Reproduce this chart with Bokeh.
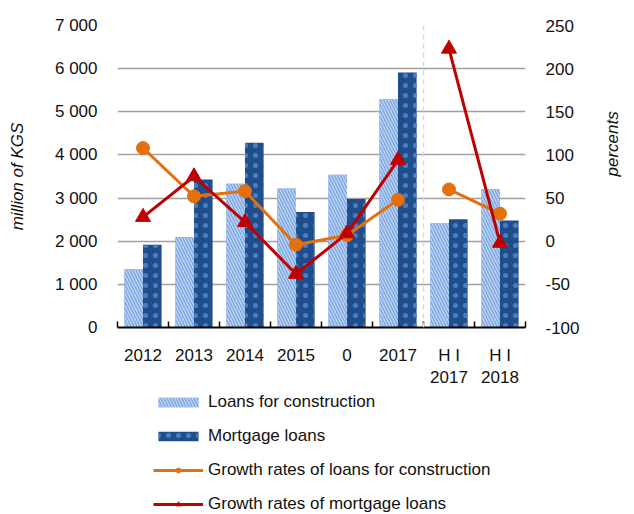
import math
from bokeh.plotting import figure
from bokeh.layouts import column
from bokeh.models import (Range1d, LinearAxis, FixedTicker,
                          ColumnDataSource, Legend, LegendItem, Span)
from bokeh.transform import dodge
from bokeh.embed import file_html
from bokeh.resources import INLINE

categories = ["2012", "2013", "2014", "2015", "0", "2017", "H I\n2017", "H I\n2018"]
loans_construction = [1350, 2100, 3330, 3220, 3540, 5290, 2420, 3210]
mortgage_loans = [1920, 3430, 4280, 2680, 2980, 5910, 2510, 2480]
growth_construction = [108, 52, 58, -4, 7, 48, 60, 32]
growth_mortgage = [28, 75, 22, -38, 9, 94, 223, -2]
series_names = ["Loans for construction", "Mortgage loans",
                "Growth rates of loans for construction", "Growth rates of mortgage loans"]

left_ticks = [0, 1000, 2000, 3000, 4000, 5000, 6000, 7000]
left_tick_labels = ["0", "1 000", "2 000", "3 000", "4 000", "5 000", "6 000", "7 000"]
right_ticks = [-100, -50, 0, 50, 100, 150, 200, 250]
right_tick_labels = ["-100", "-50", "0", "50", "100", "150", "200", "250"]

FONT = "Liberation Sans"
FS = "17px"
TXT = "#111111"
N = len(categories)
xc = [i + 0.5 for i in range(N)]  # category slot centres on the axis scale

OR = "#E3700D"
RD = "#C00000"
BAR_C = dict(fill_color="#5A8DDA", line_color=None,
             hatch_pattern="\\", hatch_color="#B4CEF1", hatch_weight=2, hatch_scale=6)
BAR_M = dict(fill_color="#1F4E8A", line_color=None,
             hatch_pattern=".", hatch_color="#4A7DC4", hatch_weight=1, hatch_scale=10)
LINE_C = dict(line_color=OR, line_width=3)
LINE_M = dict(line_color=RD, line_width=3)
MK_C = dict(marker="circle", size=13, fill_color=OR, line_color=OR)
MK_M = dict(marker="triangle", size=15, fill_color=RD, line_color=RD)

src = ColumnDataSource(dict(x=xc, lc=loans_construction, ml=mortgage_loans,
                            gc=growth_construction, gm=growth_mortgage))
src_a = ColumnDataSource(dict(x=xc[:6], gc=growth_construction[:6], gm=growth_mortgage[:6]))
src_b = ColumnDataSource(dict(x=xc[6:], gc=growth_construction[6:], gm=growth_mortgage[6:]))

p = figure(x_range=Range1d(0, N), y_range=Range1d(0, 7000),
           width=634, height=390, output_backend="svg", toolbar_location=None,
           x_axis_location=None, y_axis_location=None,
           min_border_left=117, min_border_right=104, min_border_top=25, min_border_bottom=63)
p.outline_line_color = None
p.extra_y_ranges = {"pct": Range1d(-100, 250)}

# grid
p.xgrid.visible = False
p.ygrid.ticker = FixedTicker(ticks=left_ticks[1:])
p.ygrid.grid_line_color = "#A0A0A0"
p.ygrid.grid_line_width = 1.5

def style_y(ax):
    ax.axis_line_color = None
    ax.major_tick_line_color = None
    ax.minor_tick_line_color = None
    ax.major_tick_out = 0
    ax.major_tick_in = 0
    ax.major_label_standoff = 20
    ax.major_label_text_font = FONT
    ax.major_label_text_font_size = FS
    ax.major_label_text_color = TXT
    ax.axis_label_text_font = FONT
    ax.axis_label_text_font_size = FS
    ax.axis_label_text_font_style = "italic"
    ax.axis_label_text_color = TXT

ly = LinearAxis(ticker=FixedTicker(ticks=left_ticks), axis_label="million of KGS")
ly.major_label_overrides = {t: l for t, l in zip(left_ticks, left_tick_labels)}
style_y(ly)
ly.axis_label_standoff = 25
p.add_layout(ly, "left")

ry = LinearAxis(y_range_name="pct", ticker=FixedTicker(ticks=right_ticks), axis_label="percents")
ry.major_label_overrides = {t: l for t, l in zip(right_ticks, right_tick_labels)}
style_y(ry)
ry.axis_label_standoff = 30
try:
    ry.axis_label_orientation = math.pi / 2
except Exception:
    pass
p.add_layout(ry, "right")

# baseline with boundary ticks
bx = LinearAxis(ticker=FixedTicker(ticks=list(range(N + 1))))
bx.axis_line_color = "black"
bx.axis_line_width = 2
bx.major_tick_line_color = "black"
bx.major_tick_line_width = 1.5
bx.major_tick_in = 6
bx.major_tick_out = 0
bx.minor_tick_line_color = None
bx.major_label_text_alpha = 0
bx.major_label_text_font_size = "1px"
bx.major_label_standoff = 0
p.add_layout(bx, "below")

# category labels
cx = LinearAxis(ticker=FixedTicker(ticks=xc))
cx.major_label_overrides = {x: c for x, c in zip(xc, categories)}
cx.axis_line_color = None
cx.major_tick_line_color = None
cx.minor_tick_line_color = None
cx.major_tick_out = 0
cx.major_tick_in = 0
cx.major_label_standoff = 18
cx.major_label_text_font = FONT
cx.major_label_text_font_size = FS
cx.major_label_text_color = TXT
p.add_layout(cx, "below")

# separator between annual and half-year data
p.add_layout(Span(location=6, dimension="height", line_color="#D5D9E3", line_width=1.5, line_dash="5 4"))

# bars
bw = 0.365
p.vbar(x=dodge("x", -0.182), top="lc", width=bw, source=src, **BAR_C)
p.vbar(x=dodge("x", 0.182), top="ml", width=bw, source=src, **BAR_M)

# lines
p.line(x="x", y="gc", source=src_a, y_range_name="pct", **LINE_C)
p.line(x="x", y="gc", source=src_b, y_range_name="pct", **LINE_C)
p.scatter(x="x", y="gc", source=src, y_range_name="pct", **MK_C)
p.line(x="x", y="gm", source=src_a, y_range_name="pct", **LINE_M)
p.line(x="x", y="gm", source=src_b, y_range_name="pct", **LINE_M)
p.scatter(x="x", y="gm", source=src, y_range_name="pct", **MK_M)

# legend strip below the chart (hidden proxy renderers of the same series)
q = figure(x_range=Range1d(0, N), y_range=Range1d(0, 7000), width=634, height=124,
           output_backend="svg", toolbar_location=None,
           x_axis_location=None, y_axis_location=None,
           min_border_left=0, min_border_right=0, min_border_top=0, min_border_bottom=0)
q.outline_line_color = None
q.grid.visible = False
q.extra_y_ranges = {"pct": Range1d(-100, 250)}
g1 = q.vbar(x="x", top="lc", width=bw, source=src, visible=False, **BAR_C)
g2 = q.vbar(x="x", top="ml", width=bw, source=src, visible=False, **BAR_M)
g3 = q.line(x="x", y="gc", source=src_a, y_range_name="pct", visible=False, **LINE_C)
g3m = q.scatter(x="x", y="gc", source=src, y_range_name="pct", visible=False, **MK_C)
g4 = q.line(x="x", y="gm", source=src_a, y_range_name="pct", visible=False, **LINE_M)
g4m = q.scatter(x="x", y="gm", source=src, y_range_name="pct", visible=False, **MK_M)

legend = Legend(items=[
    LegendItem(label=series_names[0], renderers=[g1]),
    LegendItem(label=series_names[1], renderers=[g2]),
    LegendItem(label=series_names[2], renderers=[g3, g3m]),
    LegendItem(label=series_names[3], renderers=[g4, g4m]),
], location=(36, 0))
legend.click_policy = "none"
legend.inactive_fill_alpha = 0
legend.border_line_color = None
legend.background_fill_alpha = 0
legend.padding = 0
legend.margin = 0
legend.spacing = 14
legend.glyph_width = 50
legend.glyph_height = 12
legend.label_height = 20
legend.label_standoff = 5
legend.label_text_font = FONT
legend.label_text_font_size = FS
legend.label_text_color = TXT
q.add_layout(legend, "center")

open("out.html", "w").write(file_html(column(p, q, spacing=0), INLINE))
